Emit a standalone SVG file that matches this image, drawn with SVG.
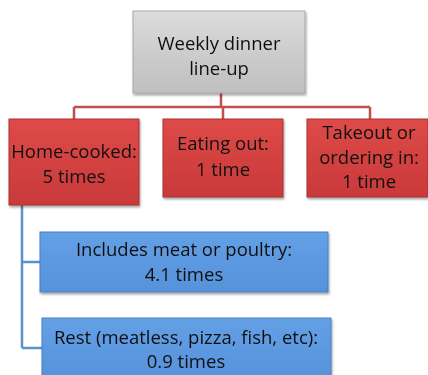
<svg xmlns="http://www.w3.org/2000/svg" width="428" height="375" viewBox="0 0 428 375">
<defs>
<linearGradient id="gGray" x1="0" y1="0" x2="0" y2="1"><stop offset="0" stop-color="#dcdcdc"/><stop offset="0.5" stop-color="#cdcdcd"/><stop offset="1" stop-color="#bfbfbf"/></linearGradient>
<linearGradient id="gRed" x1="0" y1="0" x2="0" y2="1"><stop offset="0" stop-color="#de4a48"/><stop offset="1" stop-color="#c9393a"/></linearGradient>
<linearGradient id="gBlue" x1="0" y1="0" x2="0" y2="1"><stop offset="0" stop-color="#64a0e6"/><stop offset="1" stop-color="#5592da"/></linearGradient>
<filter id="sh" x="-10%" y="-10%" width="120%" height="130%"><feDropShadow dx="1" dy="2" stdDeviation="1.2" flood-color="#000" flood-opacity="0.35"/></filter>
</defs>
<style>
.t{font-family:"Open Sans","Liberation Sans",sans-serif;font-size:18.5px;fill:#111;text-anchor:middle}
.box{filter:url(#sh)}
.rc{fill:none;stroke:#c0504d;stroke-width:2.5}
.bc{fill:none;stroke:#5b8fd0;stroke-width:2.5}
</style>
<g id="connectors">
<path class="rc" d="M221 93V107M74 107H370M74 107V119M223 107V119M370 107V119"/>
<path class="bc" d="M22 205V348M22 262H40M22 348H42"/>
</g>
<g id="n-top" class="box"><rect x="133" y="11" width="172" height="82" fill="url(#gGray)" stroke="#a8a8a8" stroke-width="1"/>
<text class="t" x="219" y="50">Weekly dinner</text><text class="t" x="219" y="75">line-up</text></g>
<g id="n-home" class="box"><rect x="9" y="119" width="130" height="86" fill="url(#gRed)" stroke="#a83333" stroke-width="1"/>
<text class="t" x="74" y="158">Home-cooked:</text><text class="t" x="74" y="183">5 times</text></g>
<g id="n-out" class="box"><rect x="163" y="119" width="120" height="78" fill="url(#gRed)" stroke="#a83333" stroke-width="1"/>
<text class="t" x="223" y="150">Eating out:</text><text class="t" x="223" y="176">1 time</text></g>
<g id="n-takeout" class="box"><rect x="307" y="119" width="121" height="78" fill="url(#gRed)" stroke="#a83333" stroke-width="1"/>
<text class="t" x="369" y="139">Takeout or</text><text class="t" x="369" y="164">ordering in:</text><text class="t" x="369" y="188">1 time</text></g>
<g id="n-meat" class="box"><rect x="40" y="232" width="288" height="60" fill="url(#gBlue)" stroke="#4a7fbf" stroke-width="1"/>
<text class="t" x="184" y="256">Includes meat or poultry:</text><text class="t" x="184" y="281">4.1 times</text></g>
<g id="n-rest" class="box"><rect x="42" y="318" width="289" height="62" fill="url(#gBlue)" stroke="#4a7fbf" stroke-width="1"/>
<text class="t" x="186" y="344">Rest (meatless, pizza, fish, etc):</text><text class="t" x="186" y="368">0.9 times</text></g>
</svg>
